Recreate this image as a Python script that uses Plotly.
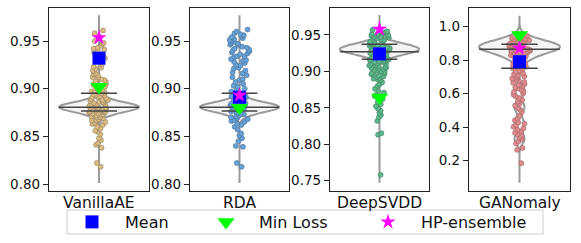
import plotly.graph_objects as go

W, H = 581, 243

models = ["VanillaAE", "RDA", "DeepSVDD", "GANomaly"]

ae_pts = [0.961, 0.958, 0.954, 0.950, 0.948, 0.947, 0.945, 0.943, 0.942, 0.941,
          0.939, 0.938, 0.936, 0.935, 0.933, 0.932, 0.930, 0.929, 0.928, 0.926,
          0.925, 0.923, 0.922, 0.921, 0.919, 0.918, 0.916, 0.915, 0.914, 0.912,
          0.912, 0.910, 0.909, 0.908, 0.907, 0.905, 0.905, 0.904, 0.902, 0.901,
          0.900, 0.899, 0.898, 0.897, 0.896, 0.895, 0.894, 0.893, 0.893, 0.892,
          0.891, 0.891, 0.890, 0.889, 0.888, 0.888, 0.887, 0.886, 0.886, 0.885,
          0.885, 0.884, 0.883, 0.883, 0.882, 0.882, 0.881, 0.881, 0.880, 0.880,
          0.879, 0.879, 0.878, 0.878, 0.877, 0.877, 0.876, 0.876, 0.875, 0.875,
          0.874, 0.874, 0.873, 0.872, 0.872, 0.871, 0.870, 0.870, 0.869, 0.868,
          0.867, 0.867, 0.866, 0.865, 0.864, 0.863, 0.862, 0.860, 0.858, 0.856,
          0.855, 0.852, 0.848, 0.846, 0.843, 0.841, 0.838, 0.822, 0.818]
rda_pts = [0.962, 0.960, 0.958, 0.957, 0.956, 0.955, 0.954, 0.953, 0.952, 0.951,
           0.950, 0.949, 0.948, 0.947, 0.946, 0.946, 0.944, 0.943, 0.942, 0.941,
           0.940, 0.939, 0.938, 0.937, 0.936, 0.934, 0.934, 0.933, 0.931, 0.930,
           0.929, 0.928, 0.927, 0.925, 0.924, 0.922, 0.921, 0.919, 0.917, 0.916,
           0.914, 0.912, 0.910, 0.909, 0.907, 0.905, 0.903, 0.902, 0.900, 0.898,
           0.897, 0.895, 0.894, 0.893, 0.892, 0.891, 0.890, 0.889, 0.888, 0.887,
           0.886, 0.885, 0.884, 0.883, 0.882, 0.881, 0.880, 0.879, 0.878, 0.877,
           0.876, 0.875, 0.874, 0.873, 0.872, 0.871, 0.870, 0.869, 0.868, 0.867,
           0.866, 0.865, 0.863, 0.862, 0.860, 0.857, 0.853, 0.851, 0.848, 0.845,
           0.840, 0.839, 0.822, 0.818]
svdd_pts = [0.957, 0.955, 0.954, 0.953, 0.952, 0.951, 0.950, 0.950, 0.949, 0.948,
            0.947, 0.947, 0.946, 0.945, 0.944, 0.944, 0.943, 0.942, 0.941, 0.941,
            0.940, 0.939, 0.938, 0.938, 0.937, 0.936, 0.935, 0.935, 0.934, 0.933,
            0.932, 0.932, 0.931, 0.930, 0.929, 0.929, 0.928, 0.927, 0.926, 0.926,
            0.925, 0.924, 0.923, 0.923, 0.922, 0.921, 0.920, 0.920, 0.919, 0.918,
            0.917, 0.917, 0.916, 0.915, 0.914, 0.914, 0.913, 0.912, 0.911, 0.911,
            0.910, 0.909, 0.908, 0.908, 0.907, 0.906, 0.905, 0.905, 0.904, 0.903,
            0.902, 0.901, 0.900, 0.899, 0.898, 0.897, 0.896, 0.895, 0.894, 0.893,
            0.892, 0.891, 0.890, 0.889, 0.888, 0.885, 0.882, 0.880, 0.876, 0.873,
            0.871, 0.868, 0.866, 0.862, 0.858, 0.855, 0.852, 0.849, 0.846, 0.843,
            0.840, 0.837, 0.832, 0.815, 0.813, 0.758]
gan_pts = [0.945, 0.938, 0.933, 0.928, 0.925, 0.921, 0.919, 0.915, 0.912, 0.910,
           0.906, 0.903, 0.901, 0.897, 0.894, 0.892, 0.888, 0.885, 0.883, 0.879,
           0.876, 0.874, 0.870, 0.867, 0.865, 0.861, 0.858, 0.856, 0.852, 0.849,
           0.846, 0.843, 0.838, 0.835, 0.830, 0.826, 0.823, 0.818, 0.812, 0.807,
           0.800, 0.795, 0.788, 0.781, 0.775, 0.767, 0.761, 0.752, 0.746, 0.738,
           0.731, 0.722, 0.716, 0.708, 0.703, 0.695, 0.690, 0.683, 0.677, 0.670,
           0.665, 0.658, 0.652, 0.645, 0.639, 0.631, 0.625, 0.616, 0.610, 0.601,
           0.594, 0.585, 0.574, 0.563, 0.552, 0.540, 0.529, 0.515, 0.504, 0.490,
           0.468, 0.452, 0.441, 0.428, 0.420, 0.410, 0.402, 0.392, 0.384, 0.375,
           0.367, 0.357, 0.349, 0.338, 0.328, 0.316, 0.303, 0.276, 0.265, 0.185]

# samples defining the violin outlines
ae_viol = [0.872, 0.875, 0.877, 0.878, 0.879, 0.880, 0.880, 0.881, 0.881, 0.882,
           0.882, 0.883, 0.884, 0.886, 0.889]
rda_viol = [0.872, 0.875, 0.877, 0.878, 0.879, 0.880, 0.880, 0.881, 0.881, 0.882,
            0.882, 0.883, 0.884, 0.886, 0.889]
svdd_viol = [0.919, 0.923, 0.925, 0.927, 0.928, 0.929, 0.930, 0.930, 0.931, 0.932,
             0.933, 0.934, 0.936, 0.938, 0.941]
gan_viol = [0.80, 0.83, 0.85, 0.86, 0.87, 0.875, 0.88, 0.885, 0.89, 0.90, 0.91,
            0.93, 0.33, 0.42, 0.52, 0.62]
viol_bw = [0.004, 0.004, 0.0055, 0.03]
viol_span = [[0.801, 0.977], [0.801, 0.977], [0.747, 0.9775], [0.069, 1.066]]

q_hi = [0.8952, 0.8952, 0.9372, 0.895]
q_med = [0.8805, 0.8805, 0.927, 0.865]
q_lo = [0.8766, 0.8766, 0.9166, 0.752]

mean_vals = [0.932, 0.891, 0.924, 0.791]
minloss_vals = [0.902, 0.880, 0.864, 0.950]
hp_vals = [0.9535, 0.893, 0.958, 0.871]

y_ranges = [[0.7927, 0.9846], [0.7927, 0.9846], [0.7358, 0.987], [0.019, 1.1116]]
y_ticks = [[0.80, 0.85, 0.90, 0.95], [0.80, 0.85, 0.90, 0.95],
           [0.75, 0.80, 0.85, 0.90, 0.95], [0.2, 0.4, 0.6, 0.8, 1.0]]
y_fmt = [".2f", ".2f", ".2f", ".1f"]

pt_fill = ["#dcbc80", "#64a2da", "#5db98c", "#e08a8e"]
pt_edge = ["#8f7f66", "#4f6f8f", "#3f7f5f", "#9f6666"]

all_pts = [ae_pts, rda_pts, svdd_pts, gan_pts]
all_viol = [ae_viol, rda_viol, svdd_viol, gan_viol]

px_x = [(49, 149), (190, 289), (330, 429), (469, 570)]
top_px, bot_px = 8, 191

FONT = "DejaVu Sans"
fig = go.Figure()
annotations = []

for i in range(4):
    xa = "x" if i == 0 else f"x{i+1}"
    ya = "y" if i == 0 else f"y{i+1}"
    fig.add_trace(go.Violin(
        y=all_viol[i], x0=0, xaxis=xa, yaxis=ya, width=0.8,
        bandwidth=viol_bw[i], spanmode="manual", span=viol_span[i],
        points=False, line=dict(color="#9a9a9a", width=2),
        fillcolor="rgba(238,238,238,0.6)", showlegend=False, hoverinfo="skip"))
    xs, ys = [], []
    for v, w in ((q_hi[i], 0.18), (q_med[i], 0.40), (q_lo[i], 0.18)):
        xs += [-w, w, None]
        ys += [v, v, None]
    fig.add_trace(go.Scatter(x=xs, y=ys, xaxis=xa, yaxis=ya, mode="lines",
                             line=dict(color="#444444", width=1.5),
                             showlegend=False, hoverinfo="skip"))
    fig.add_trace(go.Violin(
        y=all_pts[i], x0=0, xaxis=xa, yaxis=ya, width=0.21,
        points="all", pointpos=0, jitter=1,
        line=dict(width=0, color="rgba(0,0,0,0)"), fillcolor="rgba(0,0,0,0)",
        marker=dict(size=5, color=pt_fill[i], line=dict(color=pt_edge[i], width=0.6)),
        showlegend=False, hoverinfo="skip"))
    fig.add_trace(go.Scatter(x=[0], y=[mean_vals[i]], xaxis=xa, yaxis=ya, mode="markers",
                             marker=dict(symbol="square", size=13, color="#0000ff"),
                             name="Mean", legend="legend", showlegend=(i == 0)))
    fig.add_trace(go.Scatter(x=[0], y=[minloss_vals[i]], xaxis=xa, yaxis=ya, mode="markers",
                             marker=dict(symbol="triangle-down", size=15, color="#00ff00"),
                             name="Min Loss", legend="legend2", showlegend=(i == 0)))
    fig.add_trace(go.Scatter(x=[0], y=[hp_vals[i]], xaxis=xa, yaxis=ya, mode="markers",
                             marker=dict(symbol="star", size=11.5, color="#ff00ff"),
                             name="HP-ensemble", legend="legend3", showlegend=(i == 0)))

    x0p, x1p = px_x[i]
    axis_common = dict(showline=True, mirror=True, linecolor="#222222", linewidth=1.3,
                       showgrid=False, zeroline=False)
    fig.layout[("xaxis" if i == 0 else f"xaxis{i+1}")] = dict(
        domain=[x0p / W, x1p / W], range=[-0.5, 0.5], anchor=ya,
        showticklabels=False, ticks="", **axis_common)
    fig.layout[("yaxis" if i == 0 else f"yaxis{i+1}")] = dict(
        domain=[1 - bot_px / H, 1 - top_px / H], range=y_ranges[i], anchor=xa,
        tickvals=y_ticks[i], tickformat=y_fmt[i], ticks="outside", ticklen=5,
        tickwidth=1.3, tickcolor="#222222",
        tickfont=dict(family=FONT, size=13.5, color="#111111"), **axis_common)
    annotations.append(dict(text=models[i], xref="paper", yref="paper",
                            x=(x0p + x1p) / 2 / W, y=1 - 203 / H,
                            xanchor="center", yanchor="middle", showarrow=False,
                            font=dict(family=FONT, size=15.5, color="#111111")))

leg_common = dict(orientation="h", yanchor="middle", y=1 - 222 / H, xanchor="left",
                  itemwidth=56, bgcolor="rgba(0,0,0,0)", borderwidth=0,
                  font=dict(family=FONT, size=16, color="#111111"))
fig.update_layout(
    width=W, height=H, margin=dict(l=0, r=0, t=0, b=0),
    paper_bgcolor="white", plot_bgcolor="white",
    violinmode="overlay",
    legend=dict(x=59 / W, **leg_common),
    legend2=dict(x=193 / W, **leg_common),
    legend3=dict(x=355 / W, **leg_common),
    annotations=annotations,
    shapes=[dict(type="rect", xref="paper", yref="paper",
                 x0=67 / W, x1=543 / W, y0=1 - 234 / H, y1=1 - 210 / H,
                 line=dict(color="#cccccc", width=1))],
)

fig.write_html("out.html", config={"displayModeBar": False},
               post_script="document.body.style.margin='0';")
